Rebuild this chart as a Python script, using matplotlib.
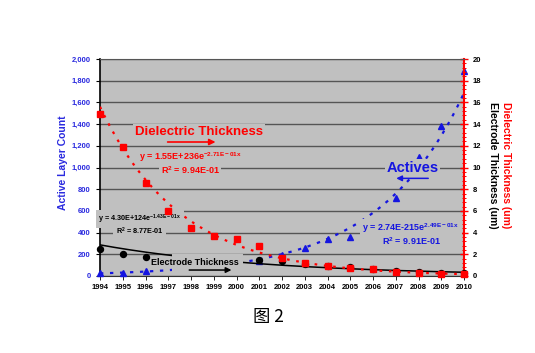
import numpy as np
import matplotlib
matplotlib.use("Agg")
import matplotlib.pyplot as plt
from matplotlib.ticker import MultipleLocator, FuncFormatter
from matplotlib.patches import Rectangle

plt.rcParams['font.family'] = ['Liberation Sans', 'DejaVu Sans']
plt.rcParams['mathtext.default'] = 'regular'

# ---- data ----
years = list(range(1994, 2011))
dielectric_um = [14.9, 11.9, 8.6, 6.0, 4.4, 3.7, 3.4, 2.8, 1.66, 1.2, 0.92, 0.74, 0.65, 0.37, 0.28, 0.18, 0.18]
actives_years = [1994, 1995, 1996, 2001, 2002, 2003, 2004, 2005, 2007, 2008, 2009, 2010]
actives_count = [28, 28, 46, 138, 194, 258, 341, 360, 719, 1097, 1382, 1889]
electrode_years = [1994, 1995, 1996, 2001, 2002, 2003, 2004, 2005, 2006, 2007, 2008, 2009, 2010]
electrode_um = [2.5, 2.0, 1.75, 1.5, 1.4, 1.1, 0.95, 0.83, 0.6, 0.5, 0.4, 0.3, 0.25]
year_labels = [str(y) for y in years]

BG = '#c0c0c0'
GRID = '#555555'
BLUE = '#1515e0'

fig = plt.figure(figsize=(5.35, 3.53), dpi=100)
ax = fig.add_axes([100/535, 1-276/353, 364/535, 217/353])
ax2 = ax.twinx()
ax.set_facecolor(BG)
ax2.patch.set_visible(False)

ax.set_xlim(1994, 2010)
ax.set_ylim(0, 2000)
ax2.set_ylim(0, 20)

ax.yaxis.set_major_locator(MultipleLocator(200))
ax.set_xticks(years)
ax.set_xticklabels(year_labels)
ax.grid(axis='y', color=GRID, lw=1.0, zorder=0)
ax.set_axisbelow(True)

ax.yaxis.set_major_formatter(FuncFormatter(lambda v, p: f"{int(v):,}"))
ax.tick_params(axis='y', labelsize=5.5, labelcolor='#2a2adf', length=3, width=0.8, color='black')
ax.tick_params(axis='x', labelsize=5.5, labelcolor='black', length=3, width=0.6, color='black', pad=3)
for lab in ax.get_xticklabels() + ax.get_yticklabels():
    lab.set_fontweight('bold')

ax2.yaxis.set_major_locator(MultipleLocator(2))
ax2.yaxis.set_minor_locator(MultipleLocator(0.4))
ax2.tick_params(axis='y', which='major', direction='inout', length=6, width=1, color='red',
                labelsize=5.5, labelcolor='black')
ax2.tick_params(axis='y', which='minor', direction='inout', length=3, width=0.7, color='red')
for lab in ax2.get_yticklabels():
    lab.set_fontweight('bold')

for s in ['top', 'right']:
    ax.spines[s].set_visible(False)
ax.spines['left'].set_color('black')
ax.spines['left'].set_linewidth(1.2)
ax.spines['bottom'].set_color('#333333')
ax2.spines['left'].set_visible(False)
ax2.spines['bottom'].set_visible(False)
ax2.spines['top'].set_color(GRID)
ax2.spines['right'].set_color('red')
ax2.spines['right'].set_linewidth(1.5)

# ---- trend lines (exponential fits of the data) ----
xf = np.linspace(1994, 2010, 200)
def expfit(x, y):
    b, a = np.polyfit(np.array(x, float) - 2000, np.log(np.array(y, float)), 1)
    return np.exp(a + b * (xf - 2000))

ax.plot(xf, expfit(actives_years, actives_count), color=BLUE, lw=1.6,
        ls=(0, (1.5, 3)), zorder=3)
ax2.plot(xf, expfit(electrode_years, electrode_um), color='black', lw=1.1, zorder=2)
ax2.plot(xf, expfit(years, dielectric_um), color='red', lw=1.6, ls=(0, (1.2, 3)), zorder=3)

# ---- markers ----
ax.plot(actives_years, actives_count, ls='none', marker='^', ms=5, color=BLUE,
        clip_on=False, zorder=5)
ax2.plot(electrode_years, electrode_um, ls='none', marker='o', ms=4.3, color='black',
         clip_on=False, zorder=9)
ax2.plot(years, dielectric_um, ls='none', marker='s', ms=5, color='red',
         clip_on=False, zorder=10)

# ---- annotations (boxes hide gridlines like the original) ----
def box(pad):
    return dict(boxstyle=f'square,pad={pad}', fc=BG, ec='none')

tr = ax.transData
def txt(x, y, s, color, size, pad=0.15, bb=True, **kw):
    ax2.text(x, y, s, transform=tr, color=color, fontsize=size, fontweight='bold',
             ha='center', va='center', bbox=box(pad) if bb else None, zorder=8, **kw)

txt(1998.35, 1327, 'Dielectric Thickness', 'red', 9.5, pad=0.15)
txt(1997.96, 1100, 'y = 1.55E+236e$^{-2.71E-01x}$', 'red', 6.5, pad=0.2)
txt(1997.96, 978, 'R$^{2}$ = 9.94E-01', 'red', 6.5, pad=0.2)
ax2.annotate('', xy=(1999.2, 1235), xytext=(1996.85, 1235), xycoords=tr, textcoords=tr,
             arrowprops=dict(arrowstyle='-|>', color='red', lw=1.2, mutation_scale=9), zorder=9)

txt(1995.75, 525, 'y = 4.30E+124e$^{-1.43E-01x}$', 'black', 5.2, pad=0.35)
txt(1995.75, 408, 'R$^{2}$ = 8.77E-01', 'black', 5.2, pad=0.35)

ax2.add_patch(Rectangle((1997.15, 12), 3.15, 190, transform=tr, fc=BG, ec='none', zorder=7))
txt(1998.15, 129, 'Electrode Thickness', 'black', 6.5, bb=False)
ax2.annotate('', xy=(1999.9, 55), xytext=(1997.8, 55), xycoords=tr, textcoords=tr,
             arrowprops=dict(arrowstyle='-|>', color='black', lw=1.1, mutation_scale=8), zorder=9)

txt(2007.75, 1000, 'Actives', BLUE, 10.5, pad=0.1)
ax2.annotate('', xy=(2006.9, 900), xytext=(2008.55, 900), xycoords=tr, textcoords=tr,
             arrowprops=dict(arrowstyle='-|>', color=BLUE, lw=1.1, mutation_scale=8), zorder=9)

txt(2007.67, 445, 'y = 2.74E-215e$^{2.49E-01x}$', BLUE, 6.5, pad=0.25)
txt(2007.67, 322, 'R$^{2}$ = 9.91E-01', BLUE, 6.5, pad=0.25)

# ---- axis labels ----
fig.text(63/535, 1-163/353, 'Active Layer Count', rotation=90, color='#2a2adf',
         fontsize=7.5, fontweight='bold', ha='center', va='center')
fig.text(506/535, 1-165/353, 'Dielectric Thickness (um)', rotation=-90, color='red',
         fontsize=7.5, fontweight='bold', ha='center', va='center')
fig.text(493/535, 1-165/353, 'Electrode Thickness (um)', rotation=-90, color='black',
         fontsize=7.5, fontweight='bold', ha='center', va='center')

fig.text(268/535, 1-317/353, '图 2', fontsize=12.5, ha='center', va='center',
         family=['Noto Sans CJK SC', 'DejaVu Sans'])

fig.savefig('out.png', dpi=100, facecolor='white')
